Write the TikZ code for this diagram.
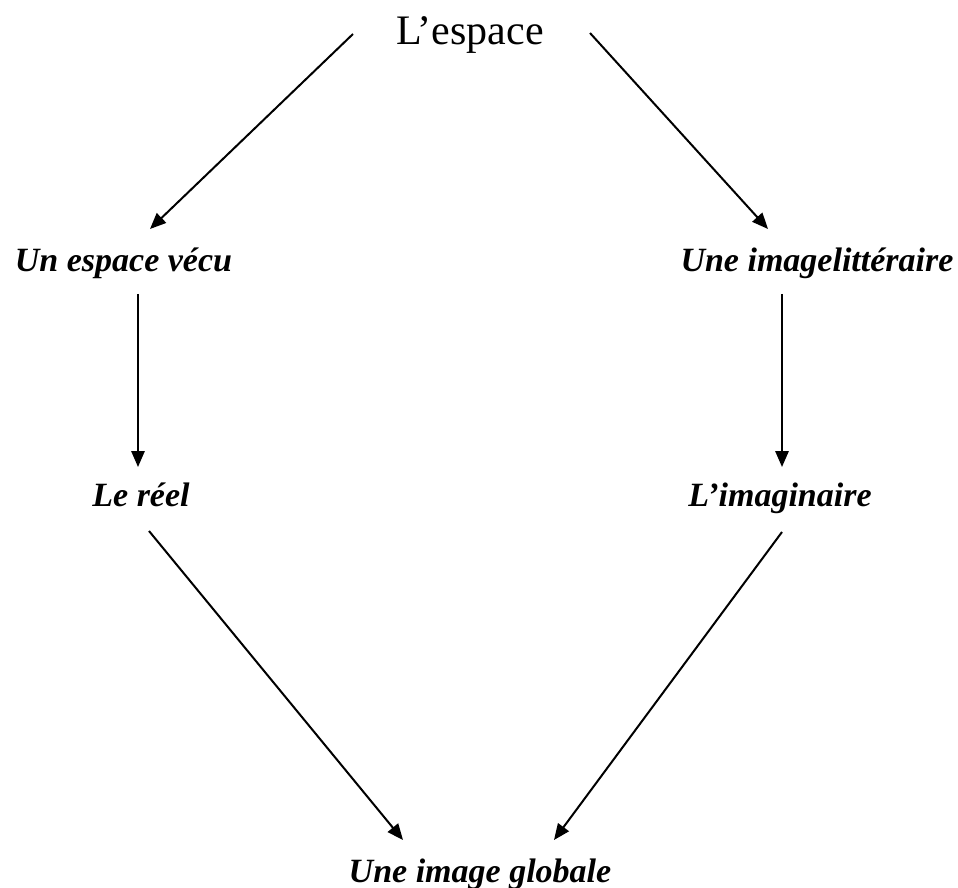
\documentclass[tikz,border=0pt]{standalone}
\usepackage{fontspec}
\setmainfont{Liberation Serif}
\usetikzlibrary{arrows.meta,calc}
\tikzset{
  lbl/.style={anchor=base,inner sep=0pt,outer sep=0pt,font=\fontsize{25.5pt}{30pt}\selectfont\bfseries\itshape},
  toplbl/.style={anchor=base,inner sep=0pt,outer sep=0pt,font=\fontsize{31.5pt}{36pt}\selectfont},
  arr/.style={line width=1.5pt,-{Triangle[length=12pt,width=10pt]}}
}
\begin{document}
\begin{tikzpicture}[x=0.75pt,y=-0.75pt]
\useasboundingbox (0,0) rectangle (958,888);
\node[toplbl] (top) at (470,45) {L’espace};
\node[lbl] (vecu) at (123.5,272) {Un espace vécu};
\node[lbl] (litt) at (817,272) {Une imagelittéraire};
\node[lbl] (reel) at (141,506) {Le réel};
\node[lbl] (imag) at (780,506) {L’imaginaire};
\node[lbl] (glob) at (480,882) {Une image globale};
\draw[arr] ($(top.base)+(-117,-11)$) -- ($(vecu.base)+(26.5,-43)$);
\draw[arr] ($(top.base)+(120,-12)$) -- ($(litt.base)+(-49,-43)$);
\draw[arr] ($(vecu.base)+(14.5,22)$) -- ($(reel.base)+(-3,-39)$);
\draw[arr] ($(litt.base)+(-35,22)$) -- ($(imag.base)+(2,-39)$);
\draw[arr] ($(reel.base)+(8,25)$) -- ($(glob.base)+(-77,-42)$);
\draw[arr] ($(imag.base)+(2,26)$) -- ($(glob.base)+(74,-42)$);
\end{tikzpicture}
\end{document}
